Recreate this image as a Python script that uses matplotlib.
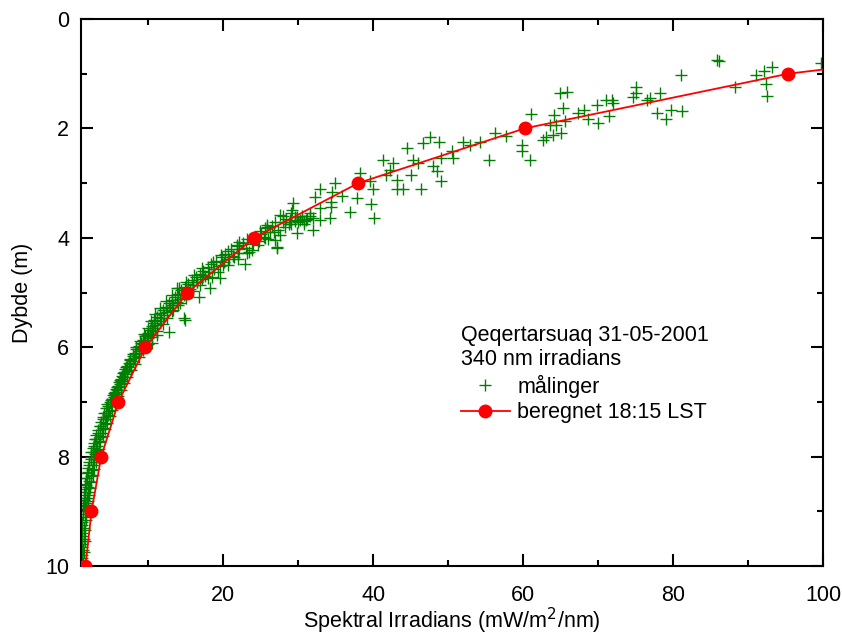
import numpy as np
import matplotlib
matplotlib.use('Agg')
import matplotlib.pyplot as plt
from matplotlib.ticker import MultipleLocator

plt.rcParams['font.family'] = ['Liberation Sans', 'DejaVu Sans']

# beregnet (model) profile, markers at whole metres
model_depth = [0.9, 1, 2, 3, 4, 5, 6, 7, 8, 9, 10]
model_irr = [101.5, 95.4, 60.2, 38.0, 24.1, 15.2, 9.6, 6.0, 3.7, 2.4, 1.6]

# maalinger - sparse upper part
sparse_irr = [99.8, 85.9, 86.1, 81.1, 91.0, 92.1, 93.2, 92.4, 92.5, 88.3, 78.2, 75.1, 75.1, 74.6,
              76.5, 76.9, 77.8, 79.0, 79.7, 81.2, 65.8, 64.9, 65.3, 65.6, 67.3, 68.1, 68.7, 69.9,
              70.0, 71.0, 71.8, 72.0, 71.5, 65.1,
              61.1, 64.1, 63.6, 64.4, 62.7, 63.0, 64.0, 59.9, 59.8, 60.9, 56.2, 57.7, 54.2, 52.0,
              52.9, 55.5, 47.6, 48.8, 46.6, 44.5, 50.5, 50.6, 49.1, 45.3, 46.0, 48.0, 48.5, 49.1,
              45.0, 46.3, 42.6, 41.3, 42.2, 41.7, 43.1, 43.2, 43.9,
              38.2, 39.6, 40.0, 37.8, 39.7, 40.1, 36.9, 34.9, 32.9, 34.5, 35.8, 34.3, 34.3, 32.2,
              32.9, 31.6, 32.9, 34.2, 32.0, 29.3, 29.1, 30.2, 27.6, 26.9, 25.8, 25.4, 26.9, 27.1,
              29.8, 29.5, 30.8, 31.2, 28.9, 30.0, 31.9, 29.0, 30.5,
              27.1, 25.8, 28.0, 26.7, 23.8, 23.1, 22.9, 21.8, 21.4, 20.0, 19.6, 18.5, 18.2, 17.3,
              16.5, 16.7, 13.8, 14.2, 14.7, 13.3, 13.1, 14.9, 12.7, 11.1, 9.8, 10.5]
sparse_depth = [0.81, 0.75, 0.77, 1.02, 1.02, 0.95, 0.88, 1.19, 1.40, 1.24, 1.35, 1.24, 1.35, 1.42,
                1.48, 1.45, 1.72, 1.83, 1.66, 1.68, 1.33, 1.35, 1.63, 1.86, 1.72, 1.66, 1.82, 1.57,
                1.90, 1.49, 1.49, 1.53, 1.77, 2.09,
                1.74, 1.76, 1.94, 1.94, 2.21, 2.15, 2.12, 2.30, 2.41, 2.58, 2.09, 2.14, 2.24, 2.24,
                2.30, 2.58, 2.16, 2.24, 2.26, 2.35, 2.41, 2.55, 2.55, 2.58, 2.64, 2.69, 2.77, 2.96,
                2.85, 3.10, 2.64, 2.58, 2.76, 2.85, 2.94, 3.10, 3.11,
                2.82, 2.97, 3.11, 3.28, 3.38, 3.63, 3.52, 2.99, 3.10, 3.16, 3.24, 3.34, 3.43, 3.25,
                3.46, 3.55, 3.67, 3.64, 3.86, 3.37, 3.49, 3.67, 3.58, 3.71, 3.77, 3.98, 4.04, 4.19,
                3.92, 3.62, 3.70, 3.66, 3.68, 3.72, 3.63, 3.75, 3.60,
                4.16, 3.80, 3.61, 3.89, 4.22, 4.28, 4.47, 4.13, 4.35, 4.50, 4.74, 4.71, 4.92, 4.68,
                4.80, 5.08, 4.92, 5.20, 5.47, 5.32, 5.23, 5.50, 5.72, 5.78, 5.78, 5.93]

# maalinger - dense lower band
dense_depth = [3.55, 3.60, 3.62, 3.65, 3.66, 3.68, 3.70, 3.72, 3.74, 3.75, 3.78, 3.80, 3.82, 3.85,
               3.88, 3.90, 3.93, 3.95, 3.98, 4.00, 4.03, 4.06, 4.09, 4.12, 4.15, 4.18, 4.21, 4.24,
               4.27, 4.30, 4.33, 4.36, 4.39, 4.42, 4.45, 4.48, 4.51, 4.54, 4.57, 4.60, 4.63, 4.66,
               4.69, 4.72, 4.75, 4.78, 4.81, 4.84, 4.87, 4.90, 4.93, 4.96, 4.99, 5.02, 5.05, 5.08,
               5.11, 5.14, 5.17, 5.20, 5.23, 5.26, 5.29, 5.32, 5.35, 5.38, 5.41, 5.44, 5.47, 5.50,
               5.53, 5.56, 5.59, 5.62, 5.65, 5.68, 5.71, 5.74, 5.77, 5.80, 5.83, 5.86, 5.89, 5.92,
               5.95, 5.98, 6.01, 6.04, 6.07, 6.10, 6.13, 6.16, 6.19, 6.22, 6.25, 6.28, 6.31, 6.34,
               6.37, 6.40, 6.43, 6.46, 6.49, 6.52, 6.55, 6.58, 6.61, 6.64, 6.67, 6.70, 6.73, 6.76,
               6.79, 6.82, 6.85, 6.88, 6.91, 6.94, 6.97, 7.00, 7.04, 7.08, 7.12, 7.16, 7.20, 7.24,
               7.28, 7.32, 7.36, 7.40, 7.44, 7.48, 7.52, 7.56, 7.60, 7.64, 7.68, 7.72, 7.76, 7.80,
               7.84, 7.88, 7.92, 7.96, 8.00, 8.05, 8.10, 8.15, 8.20, 8.25, 8.30, 8.35, 8.40, 8.45,
               8.50, 8.55, 8.60, 8.65, 8.70, 8.75, 8.80, 8.85, 8.90, 8.95, 9.00, 9.10, 9.20, 9.30,
               9.40, 9.50, 9.60, 9.70, 9.80, 9.90, 10.0]
dense_irr = [29.0, 31.5, 29.8, 30.5, 28.4, 31.0, 29.6, 27.9, 30.8, 28.8, 26.5, 28.2, 25.6, 27.3,
             24.9, 26.2, 25.0, 27.5, 24.3, 25.6, 23.2, 24.8, 22.6, 23.9, 21.8, 23.0, 22.1, 20.6,
             21.9, 20.2, 21.3, 19.8, 20.7, 19.0, 20.1, 18.4, 19.5, 17.9, 18.8, 17.3, 18.1, 16.9,
             17.6, 16.3, 17.1, 15.8, 16.5, 15.3, 16.0, 14.9, 15.5, 14.4, 15.1, 14.0, 14.7, 13.6,
             14.2, 13.1, 13.8, 12.7, 13.3, 12.3, 12.9, 11.9, 12.5, 11.5, 12.1, 11.2, 11.7, 10.8,
             11.5, 10.7, 11.2, 10.5, 10.9, 10.2, 10.6, 9.9, 10.3, 9.6, 9.9, 9.3, 9.6, 9.0,
             9.3, 8.7, 9.0, 8.4, 8.7, 8.2, 8.4, 7.9, 8.1, 7.6, 7.9, 7.4, 7.6, 7.2,
             7.4, 6.9, 7.1, 6.7, 6.9, 6.5, 6.6, 6.3, 6.4, 6.1, 6.2, 5.9, 6.0, 5.7,
             5.8, 5.5, 5.6, 5.3, 5.4, 5.1, 5.2, 4.9, 4.5, 5.0, 4.3, 4.8, 4.1, 4.6,
             3.9, 4.4, 3.7, 4.2, 3.5, 4.0, 3.3, 3.8, 3.0, 3.6, 2.9, 3.4, 2.7, 3.2,
             2.6, 3.0, 2.4, 2.9, 2.3, 2.8, 2.1, 2.6, 1.9, 2.5, 1.8, 2.3, 1.7, 2.1,
             1.6, 2.0, 1.5, 1.9, 1.4, 1.8, 1.4, 1.7, 1.3, 1.6, 1.3, 1.5, 1.2, 1.4,
             1.2, 1.4, 1.1, 1.3, 1.1, 1.2, 1.0]

# maalinger - second pass through the band
band2_depth = [4.02, 4.08, 4.14, 4.20, 4.26, 4.32, 4.38, 4.44, 4.50, 4.56, 4.62, 4.68, 4.74, 4.80,
               4.86, 4.92, 4.98, 5.04, 5.10, 5.16, 5.22, 5.28, 5.34, 5.40, 5.46, 5.52, 5.58, 5.64,
               5.70, 5.76, 5.82, 5.88, 5.94, 6.00, 6.06, 6.12, 6.18, 6.24, 6.30, 6.36, 6.42, 6.48,
               6.54, 6.60, 6.66, 6.72, 6.78, 6.84, 6.90, 6.96, 7.02, 7.08, 7.14, 7.20, 7.26, 7.32,
               7.38, 7.44, 7.50, 7.56, 7.62, 7.68, 7.74, 7.80, 7.86, 7.92, 7.98, 8.04, 8.10, 8.16,
               8.22, 8.28, 8.34, 8.40, 8.46, 8.52, 8.58, 8.64, 8.70, 8.76, 8.82, 8.88, 8.94, 9.05,
               9.15, 9.25, 9.35, 9.45, 9.55, 9.65, 9.75, 9.85, 9.95]
band2_irr = [26.0, 22.1, 24.6, 21.0, 23.4, 19.7, 21.9, 18.6, 20.6, 17.2, 19.3, 16.1, 18.0, 15.0,
             16.9, 14.1, 15.9, 13.2, 15.0, 12.4, 14.0, 11.6, 13.1, 10.9, 12.5, 10.4, 11.9, 9.9,
             11.2, 9.4, 10.5, 8.9, 9.9, 8.4, 9.3, 7.9, 8.7, 7.5, 8.2, 7.0, 7.7, 6.6,
             7.2, 6.2, 6.8, 5.8, 6.4, 5.4, 6.0, 5.0, 5.6, 4.6, 5.2, 4.3, 4.9, 3.9,
             4.5, 3.6, 4.2, 3.3, 3.9, 3.0, 3.6, 2.8, 3.4, 2.6, 3.2, 2.3, 3.0, 2.1,
             2.8, 2.0, 2.6, 1.8, 2.4, 1.7, 2.2, 1.6, 2.1, 1.5, 2.0, 1.4, 1.9, 1.3,
             1.7, 1.2, 1.6, 1.2, 1.5, 1.1, 1.4, 1.1, 1.3]

meas_irr = sparse_irr + dense_irr + band2_irr
meas_depth = sparse_depth + dense_depth + band2_depth

fs = 15.5
fig = plt.figure(figsize=(8.42, 6.39), dpi=100)
ax = fig.add_axes([0.0962, 0.1142, 0.8812, 0.8561])

ax.plot(meas_irr, meas_depth, ls='none', marker='+', ms=9, mew=1.0, color='#008000',
        label='målinger', zorder=2)
ax.plot(model_irr, model_depth, '-', color='#ff0000', lw=1.3, marker='o', ms=9,
        markevery=list(range(1, len(model_depth))), label='beregnet 18:15 LST', zorder=3)

ax.set_xlim(1, 100)
ax.set_ylim(10, 0)
ax.xaxis.set_major_locator(MultipleLocator(20))
ax.xaxis.set_minor_locator(MultipleLocator(10))
ax.yaxis.set_major_locator(MultipleLocator(2))
ax.yaxis.set_minor_locator(MultipleLocator(1))
ax.tick_params(which='both', direction='in', top=True, right=True, width=1.5, labelsize=fs)
ax.tick_params(which='major', length=8.5)
ax.tick_params(which='minor', length=4.3)
ax.tick_params(axis='x', pad=13.5)
ax.tick_params(axis='y', pad=8.5)
for s in ax.spines.values():
    s.set_linewidth(1.5)

ax.set_xlabel('Spektral Irradians (mW/m$^2$/nm)', fontsize=fs, labelpad=0)
ax.set_ylabel('Dybde (m)', fontsize=fs, labelpad=9)

leg = ax.legend(title='Qeqertarsuaq 31-05-2001\n340 nm irradians', loc='upper left',
                bbox_to_anchor=(0.497, 0.46), frameon=False, fontsize=fs, title_fontsize=fs,
                borderpad=0, handlelength=2.3, handletextpad=0.33, labelspacing=0.2,
                alignment='left')

plt.savefig('out.png', dpi=100)
